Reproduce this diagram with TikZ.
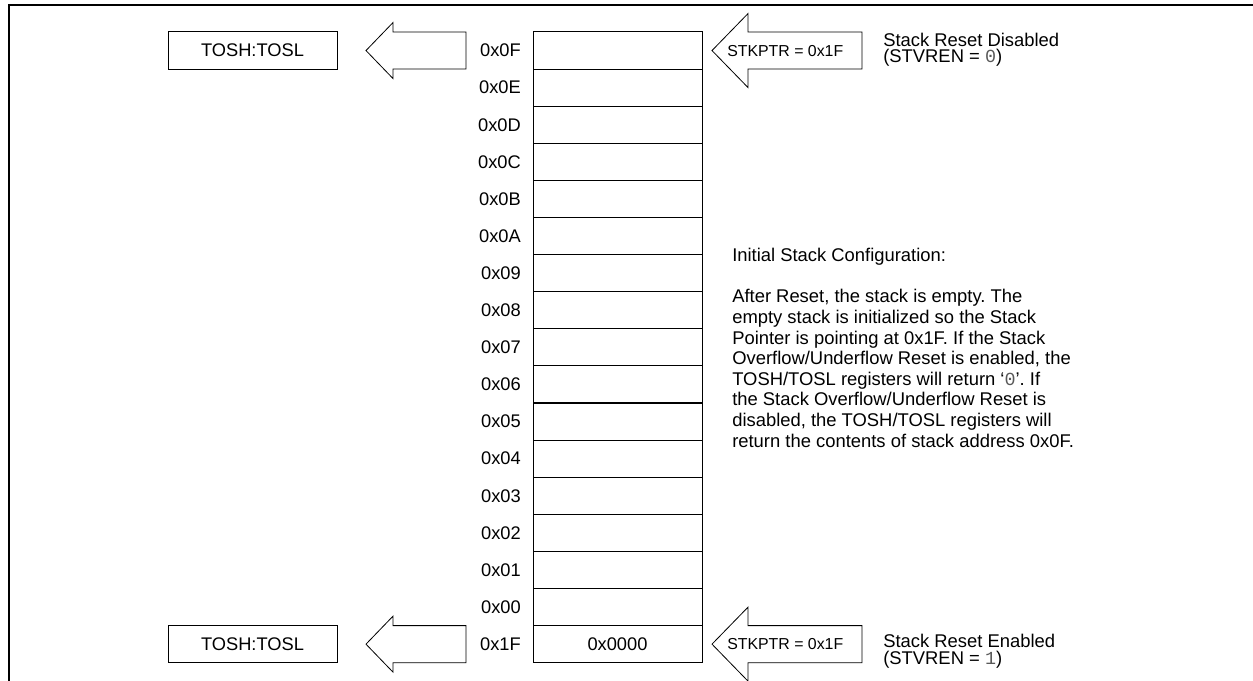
\documentclass[tikz,border=0pt]{standalone}
\usepackage{fontspec}
\setmainfont{Liberation Sans}
\newfontfamily\monof{Liberation Mono}
\definecolor{monogray}{gray}{0.35}
\newcommand\mainsz{\fontsize{13.7}{16}\selectfont}
\newcommand\ptrsz{\fontsize{11.9}{14}\selectfont}
\newcommand\sidesz{\fontsize{13.8}{12.4}\selectfont}
\newcommand\parsz{\fontsize{13.8}{15.45}\selectfont}
\newcommand\mdig[1]{{\monof\color{monogray}#1}}
\frenchspacing
\begin{document}
\frenchspacing
\begin{tikzpicture}[x=0.75pt,y=-0.75pt]
\useasboundingbox (0,0) rectangle (1253,681);
\tikzset{
  cell/.style={draw, line width=0.75pt, minimum width=126.75pt, minimum height=27.83pt, inner sep=0pt, font=\mainsz},
  addr/.style={anchor=east, inner sep=0pt, font=\mainsz},
  tosbox/.style={draw, line width=0.75pt, minimum width=126.75pt, minimum height=27.83pt, inner sep=0pt, font=\mainsz},
  blockarrow/.style={draw, line width=0.6pt, line join=miter},
  ptrtext/.style={anchor=west, inner sep=0pt, font=\ptrsz},
  side/.style={anchor=north west, align=left, inner sep=0pt, font=\sidesz},
  para/.style={anchor=north west, align=left, inner sep=0pt, font=\parsz},
  frameline/.style={line width=1.5pt},
  pics/leftarrow/.style={code={
    \draw[blockarrow] (0,0) -- (27,-28) -- (27,-18.55) -- (100,-18.55) -- (100,18.55) -- (27,18.55) -- (27,28) -- cycle;}},
  pics/rightarrow/.style={code={
    \draw[blockarrow] (0,0) -- (36,-37) -- (36,-18.55) -- (150,-18.55) -- (150,18.55) -- (36,18.55) -- (36,37) -- cycle;}}
}
% partial frame
\draw[frameline] (9,681) -- (9,5.5) -- (1253,5.5);
% stack
\foreach \lab [count=\i from 0] in {0x0F,0x0E,0x0D,0x0C,0x0B,0x0A,0x09,0x08,0x07,0x06,0x05,0x04,0x03,0x02,0x01,0x00,0x1F} {
  \pgfmathsetmacro\cy{32+37.1*(\i+0.5)}
  \node[cell] (row\i) at (617.5,\cy) {};
  \node[addr] (lab\i) at (521,\cy) {\lab};
}
\node[inner sep=0pt, font=\mainsz] (val) at (row16.center) {0x0000};
% TOSH boxes
\node[tosbox] (tostop) at (252.5,50.55) {TOSH:TOSL};
\node[tosbox] (tosbot) at (252.5,644.15) {TOSH:TOSL};
% left block arrows
\pic at (366,50.55) {leftarrow};
\pic at (366,644.15) {leftarrow};
% right block arrows
\pic at (712,50.55) {rightarrow};
\pic at (712,644.15) {rightarrow};
\node[ptrtext] (ptrtop) at (727,50.55) {STKPTR = 0x1F};
\node[ptrtext] (ptrbot) at (727,644.15) {STKPTR = 0x1F};
% side labels
\node[side] (distext) at (883,32.5) {Stack Reset Disabled\\(STVREN = \mdig{0})};
\node[side] (entext) at (883,634) {Stack Reset Enabled\\(STVREN = \mdig{1})};
% paragraph
\node[para] (info) at (732,248) {Initial Stack Configuration:\\[15.45pt]
After Reset, the stack is empty. The\\
empty stack is initialized so the Stack\\
Pointer is pointing at 0x1F. If the Stack\\
Overflow/Underflow Reset is enabled, the\\
TOSH/TOSL registers will return ‘\mdig{0}’. If\\
the Stack Overflow/Underflow Reset is\\
disabled, the TOSH/TOSL registers will\\
return the contents of stack address 0x0F.};
\end{tikzpicture}
\end{document}
